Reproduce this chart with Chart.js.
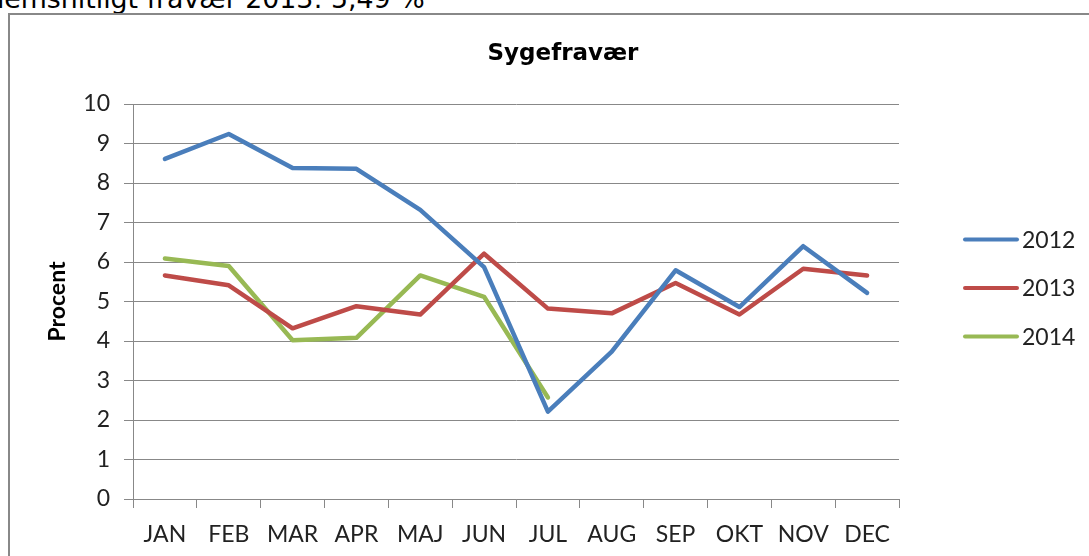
<!DOCTYPE html>
<html>
<head>
<meta charset="utf-8">
<script src="https://cdn.jsdelivr.net/npm/chart.js@4.4.0/dist/chart.umd.min.js"></script>
<style>
  html, body { margin: 0; padding: 0; width: 1089px; height: 556px; overflow: hidden; background: #fff; }
  #note { position: absolute; left: -67px; top: -14px; font: 26.8px "DejaVu Sans"; line-height: 26.8px; white-space: nowrap; color: #000; }
  #frame { position: absolute; left: 8px; top: 13px; width: 1200px; height: 700px; border: 2px solid #888; box-sizing: border-box; }
  #wrap { position: absolute; left: 0; top: 0; }
</style>
</head>
<body>
<div id="note">Gennemsnitligt fravær 2013: 5,49 %</div>
<div id="frame"></div>
<div id="wrap"><canvas id="chart" width="1126" height="556"></canvas></div>
<script>
  const months = ["JAN", "FEB", "MAR", "APR", "MAJ", "JUN", "JUL", "AUG", "SEP", "OKT", "NOV", "DEC"];
  const seriesNames = ["2012", "2013", "2014"];
  const values2012 = [8.61, 9.24, 8.38, 8.36, 7.32, 5.87, 2.21, 3.73, 5.79, 4.86, 6.40, 5.22];
  const values2013 = [5.66, 5.41, 4.32, 4.88, 4.67, 6.21, 4.82, 4.70, 5.47, 4.67, 5.83, 5.66];
  const values2014 = [6.09, 5.90, 4.02, 4.08, 5.66, 5.12, 2.57, null, null, null, null, null];
  const yMin = 0, yMax = 10, yStep = 1;
  const chartTitle = "Sygefravær";

  const FONT = "Lato";

  // title centred on the whole frame, legend beside the plot
  const frameText = {
    id: "frameText",
    afterDraw(chart) {
      const { ctx, chartArea } = chart;
      ctx.save();
      ctx.fillStyle = "#000";
      ctx.font = "bold 23px 'DejaVu Sans'";
      ctx.textAlign = "center";
      ctx.textBaseline = "alphabetic";
      ctx.fillText(chartTitle, chart.width / 2, 59.5);
      ctx.restore();

      const x0 = chartArea.right + 66;
      const mid = (chartArea.top + chartArea.bottom) / 2 - 13.5;
      chart.data.datasets.forEach((ds, i) => {
        const y = mid + (i - 1) * 48.5;
        ctx.save();
        ctx.strokeStyle = ds.borderColor;
        ctx.lineWidth = 4;
        ctx.lineCap = "round";
        ctx.beginPath();
        ctx.moveTo(x0, y);
        ctx.lineTo(x0 + 52, y);
        ctx.stroke();
        ctx.fillStyle = "#222";
        ctx.font = "23px " + FONT;
        ctx.textBaseline = "middle";
        ctx.fillText(ds.label, x0 + 57, y + 1);
        ctx.restore();
      });
    }
  };

  const line = (label, data, color) => ({
    label, data,
    borderColor: color,
    backgroundColor: color,
    borderWidth: 4.5,
    pointRadius: 0,
    pointHoverRadius: 0,
    tension: 0,
    fill: false,
    borderJoinStyle: "round",
    borderCapStyle: "round"
  });

  new Chart(document.getElementById("chart"), {
    type: "line",
    data: {
      labels: months,
      datasets: [
        line(seriesNames[0], values2012, "#4a7ebb"),
        line(seriesNames[1], values2013, "#be4b48"),
        line(seriesNames[2], values2014, "#98b954")
      ]
    },
    options: {
      responsive: false,
      animation: false,
      devicePixelRatio: 1,
      layout: { padding: { left: 0, right: 227, top: 104, bottom: 0 } },
      plugins: {
        legend: { display: false },
        tooltip: { enabled: false },
        title: { display: false }
      },
      scales: {
        x: {
          offset: true,
          grid: { offset: true, drawOnChartArea: false, drawTicks: true, tickLength: 9, color: "#888" },
          border: { display: true, color: "#888" },
          ticks: { color: "#222", font: { family: FONT, size: 23 }, padding: 13, maxRotation: 0, autoSkip: false },
          afterFit(s) { s.height = 57; }
        },
        y: {
          min: yMin,
          max: yMax,
          grid: { color: "#888", tickLength: 9 },
          border: { display: true, color: "#888" },
          ticks: { stepSize: yStep, color: "#222", font: { family: FONT, size: 23 }, padding: 14 },
          title: {
            display: true,
            text: "Procent",
            color: "#000",
            font: { family: FONT, size: 23, weight: "bold" },
            padding: { top: 44 }
          },
          afterFit(s) { s.width = 133; }
        }
      }
    },
    plugins: [frameText]
  });
</script>
</body>
</html>
